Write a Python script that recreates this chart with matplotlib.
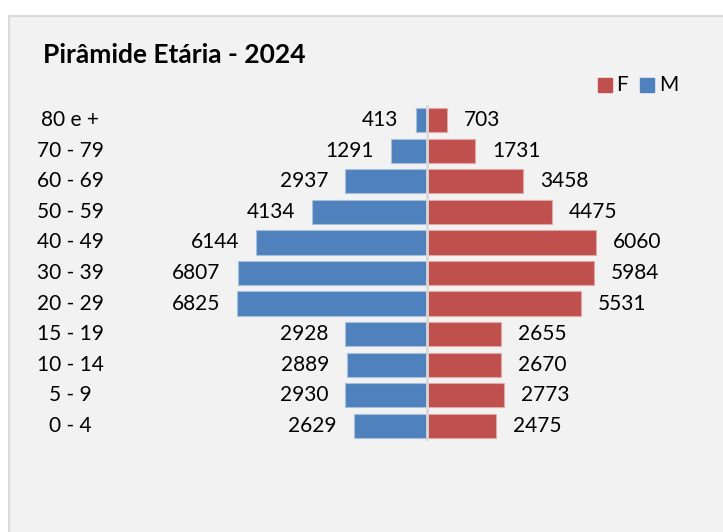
import matplotlib.pyplot as plt
from matplotlib.patches import Rectangle

plt.rcParams['font.family'] = ['Lato', 'DejaVu Sans']

# faixas etarias, de cima para baixo
faixas = ['80 e +', '70 - 79', '60 - 69', '50 - 59', '40 - 49', '30 - 39',
          '20 - 29', '15 - 19', '10 - 14', '5 - 9', '0 - 4']
masc = [413, 1291, 2937, 4134, 6144, 6807, 6825, 2928, 2889, 2930, 2629]
fem = [703, 1731, 3458, 4475, 6060, 5984, 5531, 2655, 2670, 2773, 2475]

azul = '#4F81BD'
vermelho = '#C0504D'

W, H = 723, 532
fig = plt.figure(figsize=(W / 100, H / 100), dpi=100)
fig.patch.set_facecolor('white')

# fundo cinza do painel
fig.patches.append(Rectangle((9 / W, -0.01), 1.0, 1 - 16 / H + 0.01,
                             transform=fig.transFigure, facecolor='#f2f2f2',
                             edgecolor='#d9d9d9', linewidth=1.5, zorder=-5))

# eixo: centro em x=427px, 6825 -> 190px
esc = 190 / 6825
ax_l, ax_r = 130, 700
ax_t, ax_b = 105, 441
ax = fig.add_axes([ax_l / W, 1 - ax_b / H, (ax_r - ax_l) / W, (ax_b - ax_t) / H])
ax.set_xlim(-(427 - ax_l) / esc, (ax_r - 427) / esc)
ax.set_ylim(len(faixas) - 0.5, -0.5)
ax.axis('off')

y = list(range(len(faixas)))
ax.barh(y, [-v for v in masc], height=0.79, color=azul, edgecolor='#a7c0de',
        linewidth=0.8)
ax.barh(y, fem, height=0.79, color=vermelho, edgecolor='#e0a8a6', linewidth=0.8)
ax.axvline(0, color='#d9d9d9', linewidth=2, ymin=-0.01, ymax=1.01)

gap = 17 / esc
for i in y:
    ax.text(-masc[i] - gap, i, str(masc[i]), ha='right', va='center',
            fontsize=15, color='black')
    ax.text(fem[i] + gap, i, str(fem[i]), ha='left', va='center',
            fontsize=15, color='black')
    fig.text(70 / W, 1 - (ax_t + (i + 0.5) * (ax_b - ax_t) / len(faixas)) / H,
             faixas[i], ha='center', va='center', fontsize=15)

fig.text(43 / W, 1 - 55 / H, 'Pirâmide Etária - 2024', fontsize=19,
         fontweight='bold', va='center', ha='left')

# legenda
fig.patches.append(Rectangle((598 / W, 1 - 92 / H), 14 / W, 14 / H,
                             transform=fig.transFigure, color=vermelho))
fig.text(616 / W, 1 - 85 / H, 'F', fontsize=15, va='center')
fig.patches.append(Rectangle((640 / W, 1 - 92 / H), 14 / W, 14 / H,
                             transform=fig.transFigure, color=azul))
fig.text(659 / W, 1 - 85 / H, 'M', fontsize=15, va='center')

fig.savefig('out.png', dpi=100)
